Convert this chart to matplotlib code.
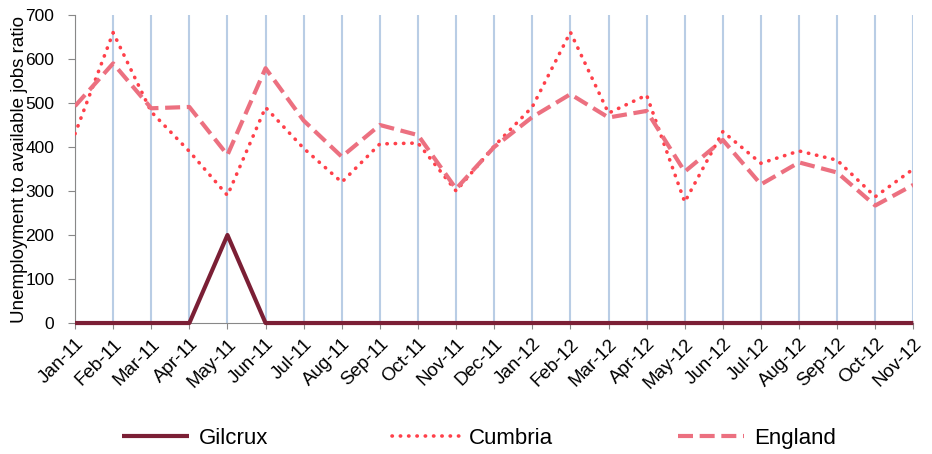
import numpy as np
import matplotlib
matplotlib.use("Agg")
import matplotlib.pyplot as plt

plt.rcParams['font.family'] = ['Liberation Sans', 'DejaVu Sans']

# Data
months = ["Jan-11", "Feb-11", "Mar-11", "Apr-11", "May-11", "Jun-11", "Jul-11", "Aug-11",
          "Sep-11", "Oct-11", "Nov-11", "Dec-11", "Jan-12", "Feb-12", "Mar-12", "Apr-12",
          "May-12", "Jun-12", "Jul-12", "Aug-12", "Sep-12", "Oct-12", "Nov-12"]
gilcrux = [0, 0, 0, 0, 200, 0, 0, 0, 0, 0, 0, 0, 0, 0, 0, 0, 0, 0, 0, 0, 0, 0, 0]
cumbria = [430, 660, 480, 390, 290, 490, 397, 320, 407, 409, 300, 402, 491, 661, 477, 518,
           275, 435, 363, 391, 370, 287, 350]
england = [493, 590, 488, 491, 382, 579, 460, 378, 450, 427, 305, 400, 468, 520, 467, 482,
           344, 416, 315, 365, 342, 267, 314]

x = np.arange(len(months))

fig = plt.figure(figsize=(9.32, 4.54), dpi=100)
ax = fig.add_axes([0.0805, 0.2885, 0.8995, 0.6785])

ax.plot(x, gilcrux, color="#7B1F35", lw=3.0, label="Gilcrux", zorder=4,
        solid_capstyle="butt", clip_on=False)
ax.plot(x, cumbria, color="#FF404A", lw=2.6, ls=(0, (0.1, 2.2)), label="Cumbria", zorder=3,
        dash_capstyle="round")
ax.plot(x, england, color="#EC7080", lw=3.0, ls=(0, (3.6, 1.6)), label="England", zorder=3)

ax.set_xlim(0, len(months) - 1)
ax.set_ylim(0, 700)
ax.set_yticks(range(0, 701, 100))
ax.set_xticks(x)
ax.set_xticklabels(months, rotation=45, ha="right", rotation_mode="anchor", fontsize=13.5)
ax.tick_params(axis="y", labelsize=12.5, length=5, color="#888888", pad=10)
ax.tick_params(axis="x", length=4, color="#888888", pad=5)

ax.grid(axis="x", color="#B9CDE5", lw=1.5)
ax.set_axisbelow(True)
for s in ["top", "right"]:
    ax.spines[s].set_visible(False)
ax.spines["left"].set_color("#888888")
ax.spines["bottom"].set_color("#888888")

ax.set_ylabel("Unemployment to available jobs ratio", fontsize=13.5)
ax.yaxis.set_label_coords(-0.056, 0.5)

fig.legend(loc="center", bbox_to_anchor=(0.514, 0.035), ncol=3, frameon=False,
           fontsize=16, handlelength=3.0, columnspacing=5.6, handletextpad=0.45)

fig.savefig("out.png", dpi=100)
